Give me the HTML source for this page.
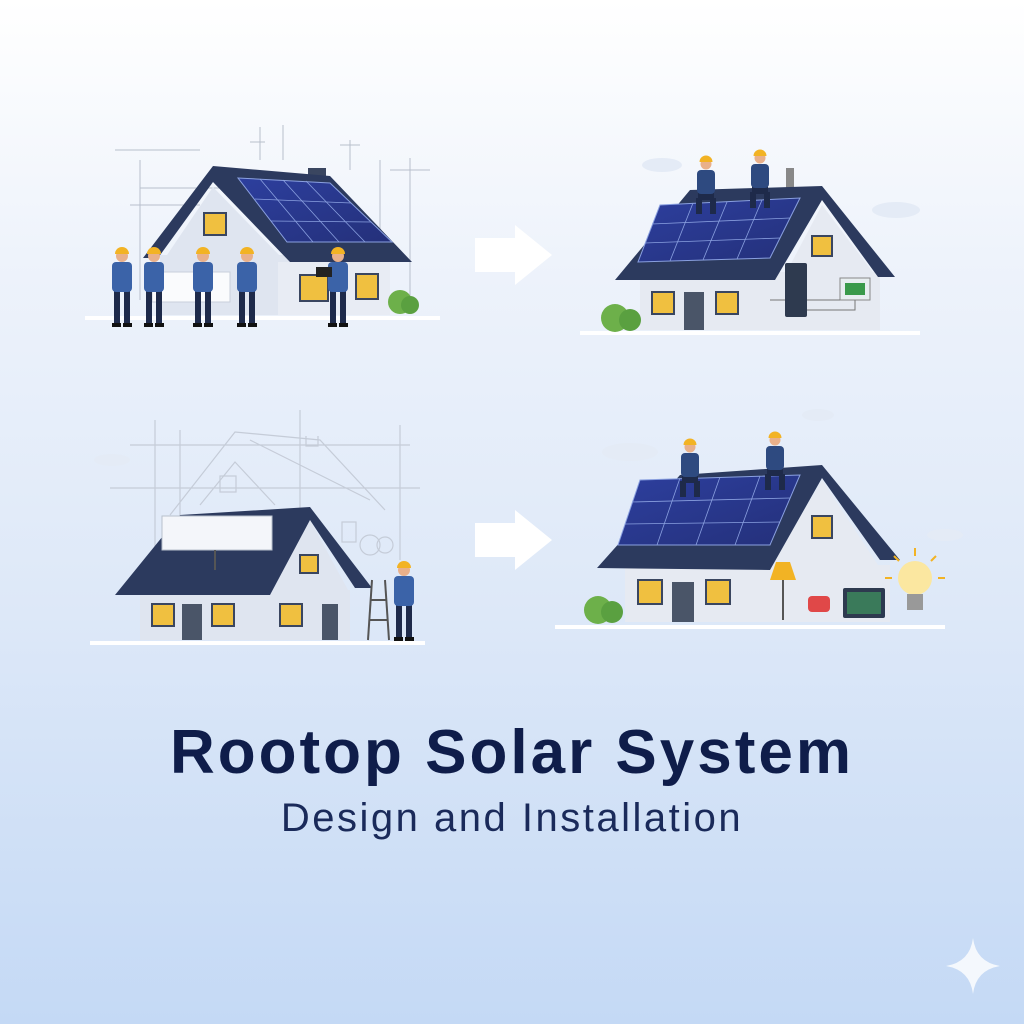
<!DOCTYPE html>
<html><head><meta charset="utf-8"><style>
html,body{margin:0;padding:0}
body{width:1024px;height:1024px;overflow:hidden;background:linear-gradient(180deg,#ffffff 0%,#eef3fb 25%,#dde8f8 60%,#c4d9f5 100%);font-family:"Liberation Sans",sans-serif;position:relative}
svg{position:absolute;left:0;top:0}
.t{position:absolute;left:0;width:1024px;text-align:center;color:#0f1d4a}
</style></head><body>
<svg width="1024" height="1024" viewBox="0 0 1024 1024">
<defs>
<g id="w">
<rect x="-8" y="-36" width="6" height="34" fill="#1e2a4a"/><rect x="2" y="-36" width="6" height="34" fill="#1e2a4a"/>
<rect x="-10" y="-3" width="9" height="4" fill="#111"/><rect x="1" y="-3" width="9" height="4" fill="#111"/>
<rect x="-10" y="-64" width="20" height="30" rx="4" fill="#3b63a8"/>
<circle cx="0" cy="-70" r="6" fill="#e9b08a"/>
<path d="M-7,-72 a7,7 0 0 1 14,0 z" fill="#f2b324"/>
</g>
<g id="k">
<rect x="-8" y="-22" width="16" height="8" fill="#1e2a4a"/><rect x="-10" y="-16" width="6" height="16" fill="#1e2a4a"/><rect x="4" y="-16" width="6" height="16" fill="#1e2a4a"/>
<rect x="-9" y="-44" width="18" height="24" rx="4" fill="#2e4a80"/>
<circle cx="0" cy="-50" r="5.5" fill="#e9b08a"/>
<path d="M-6.5,-52 a6.5,6.5 0 0 1 13,0 z" fill="#f2b324"/>
</g>
<linearGradient id="pv" x1="0" y1="0" x2="1" y2="1"><stop offset="0" stop-color="#2d3f9e"/><stop offset="1" stop-color="#24307a"/></linearGradient>
</defs>
<g fill="#ffffff"><rect x="85" y="316" width="355" height="4"/><rect x="580" y="331" width="340" height="4"/><rect x="90" y="641" width="335" height="4"/><rect x="555" y="625" width="390" height="4"/></g>

<g stroke="#b8bfcc" stroke-width="1" fill="none">
<path d="M115,150H200M140,160V300M140,188H230M130,205H200M260,127V160M250,142H265M283,125V160M350,140V170M340,145H360M380,160V300M410,158V300M390,170H430"/>
</g>
<rect x="160" y="255" width="228" height="60" fill="#dfe5f0"/>
<polygon points="165,258 213,187 282,258" fill="#dfe5f0"/>
<rect x="278" y="262" width="112" height="53" fill="#e8ecf4"/>
<rect x="308" y="168" width="18" height="14" fill="#3a4660"/>
<polygon points="143,258 213,166 330,176 412,262 290,262 213,182 158,258" fill="#2c3a5e"/>
<polygon points="238,178 330,183 392,242 287,242" fill="url(#pv)" stroke="#8aa0e0" stroke-width="1"/>
<g stroke="#8aa0e0" stroke-width="0.8"><line x1="255" y1="199" x2="351" y2="203"/><line x1="271" y1="221" x2="371" y2="222"/><line x1="260" y1="179" x2="313" y2="242"/><line x1="283" y1="180" x2="339" y2="242"/><line x1="306" y1="181" x2="365" y2="242"/></g>
<rect x="204" y="213" width="22" height="22" fill="#f0c040" stroke="#3a4660" stroke-width="2"/>
<rect x="300" y="275" width="28" height="26" fill="#f0c040" stroke="#3a4660" stroke-width="2"/>
<rect x="356" y="274" width="22" height="25" fill="#f0c040" stroke="#3a4660" stroke-width="2"/>
<circle cx="400" cy="302" r="12" fill="#6db04a"/><circle cx="410" cy="305" r="9" fill="#5aa040"/>
<rect x="152" y="272" width="78" height="30" fill="#fafbfd" stroke="#c8cfdb"/>
<use href="#w" x="122" y="326"/><use href="#w" x="154" y="326"/><use href="#w" x="203" y="326"/><use href="#w" x="247" y="326"/><use href="#w" x="338" y="326"/>
<rect x="316" y="267" width="16" height="10" fill="#222"/>

<polygon points="475,238 515,238 515,225 552,255 515,285 515,272 475,272" fill="#fff"/>
<polygon points="475,523 515,523 515,510 552,540 515,570 515,557 475,557" fill="#fff"/>

<g fill="#e4ebf6"><ellipse cx="662" cy="165" rx="20" ry="7"/><ellipse cx="896" cy="210" rx="24" ry="8"/><ellipse cx="112" cy="460" rx="18" ry="6"/><ellipse cx="630" cy="452" rx="28" ry="9"/><ellipse cx="818" cy="415" rx="16" ry="6"/><ellipse cx="945" cy="535" rx="18" ry="6"/></g>

<rect x="640" y="272" width="240" height="58" fill="#e6eaf2"/>
<polygon points="785,275 822,205 875,275" fill="#e6eaf2"/>
<rect x="786" y="168" width="8" height="22" fill="#888"/>
<polygon points="615,280 690,190 822,186 895,277 878,277 822,200 775,280" fill="#2c3a5e"/>
<polygon points="660,205 800,198 770,258 638,262" fill="url(#pv)" stroke="#8aa0e0"/>
<g stroke="#8aa0e0" stroke-width="0.8"><line x1="652" y1="224" x2="790" y2="218"/><line x1="645" y1="243" x2="780" y2="238"/><line x1="693" y1="203" x2="670" y2="261"/><line x1="727" y1="202" x2="703" y2="260"/><line x1="762" y1="200" x2="737" y2="259"/></g>
<rect x="812" y="236" width="20" height="20" fill="#f0c040" stroke="#3a4660" stroke-width="2"/>
<rect x="652" y="292" width="22" height="22" fill="#f0c040" stroke="#3a4660" stroke-width="2"/>
<rect x="684" y="292" width="20" height="38" fill="#4a5568"/>
<rect x="716" y="292" width="22" height="22" fill="#f0c040" stroke="#3a4660" stroke-width="2"/>
<rect x="785" y="263" width="22" height="54" rx="2" fill="#2e3a4f"/>
<rect x="840" y="278" width="30" height="22" fill="#e8eef0" stroke="#888"/><rect x="845" y="283" width="20" height="12" fill="#3a9a4a"/>
<g stroke="#777" fill="none"><path d="M770,300H785M807,300H840M807,310H855V300"/></g>
<circle cx="615" cy="318" r="14" fill="#6db04a"/><circle cx="630" cy="320" r="11" fill="#5aa040"/>
<use href="#k" x="706" y="214"/><use href="#k" x="760" y="208"/>

<g stroke="#c5ccd8" stroke-width="1.2" fill="none">
<path d="M155,420V560M180,430V520M300,410V520M110,488H420M130,445H410M400,425V560M170,515L235,432L320,440L385,510M200,505L235,462L275,505M250,440L370,500M306,436V446H318V436"/>
<rect x="220" y="476" width="16" height="16"/><rect x="342" y="522" width="14" height="20"/>
<circle cx="370" cy="545" r="10"/><circle cx="385" cy="545" r="8"/>
</g>
<rect x="140" y="590" width="210" height="50" fill="#dfe5f0"/>
<polygon points="270,590 310,520 348,590" fill="#dfe5f0"/>
<polygon points="115,595 180,515 310,507 372,588 355,588 310,520 270,595" fill="#2c3a5e"/>
<rect x="162" y="516" width="110" height="34" fill="#f4f6fa" stroke="#b8c0cc"/>
<line x1="215" y1="550" x2="215" y2="570" stroke="#555" stroke-width="2"/>
<rect x="300" y="555" width="18" height="18" fill="#f0c040" stroke="#3a4660" stroke-width="2"/>
<rect x="152" y="604" width="22" height="22" fill="#f0c040" stroke="#3a4660" stroke-width="2"/>
<rect x="182" y="604" width="20" height="36" fill="#4a5568"/>
<rect x="212" y="604" width="22" height="22" fill="#f0c040" stroke="#3a4660" stroke-width="2"/>
<rect x="280" y="604" width="22" height="22" fill="#f0c040" stroke="#3a4660" stroke-width="2"/>
<rect x="322" y="604" width="16" height="36" fill="#4a5568"/>
<g stroke="#555" stroke-width="2"><line x1="372" y1="580" x2="368" y2="640"/><line x1="385" y1="580" x2="389" y2="640"/><line x1="370" y1="600" x2="387" y2="600"/><line x1="369" y1="620" x2="388" y2="620"/></g>
<use href="#w" x="404" y="640"/>

<rect x="625" y="565" width="265" height="57" fill="#e6eaf2"/>
<polygon points="770,568 822,480 880,568" fill="#e6eaf2"/>
<polygon points="597,568 680,475 822,465 900,560 880,560 822,478 770,570" fill="#2c3a5e"/>
<polygon points="640,480 800,475 770,545 618,545" fill="url(#pv)" stroke="#8aa0e0"/>
<g stroke="#8aa0e0" stroke-width="0.8"><line x1="632" y1="502" x2="790" y2="498"/><line x1="625" y1="524" x2="780" y2="522"/><line x1="680" y1="478" x2="657" y2="545"/><line x1="720" y1="477" x2="696" y2="545"/><line x1="760" y1="476" x2="735" y2="545"/></g>
<rect x="812" y="516" width="20" height="22" fill="#f0c040" stroke="#3a4660" stroke-width="2"/>
<rect x="638" y="580" width="24" height="24" fill="#f0c040" stroke="#3a4660" stroke-width="2"/>
<rect x="672" y="582" width="22" height="40" fill="#4a5568"/>
<rect x="706" y="580" width="24" height="24" fill="#f0c040" stroke="#3a4660" stroke-width="2"/>
<polygon points="776,562 790,562 796,580 770,580" fill="#f2b324"/><rect x="782" y="580" width="2" height="40" fill="#555"/>
<rect x="808" y="596" width="22" height="16" rx="4" fill="#e04848"/>
<rect x="843" y="588" width="42" height="30" rx="2" fill="#2e3a4f"/><rect x="847" y="592" width="34" height="22" fill="#3a7a5a"/>
<circle cx="915" cy="578" r="17" fill="#fbe7a0"/><rect x="907" y="594" width="16" height="16" fill="#999"/>
<g stroke="#f2b324" stroke-width="2"><line x1="915" y1="548" x2="915" y2="556"/><line x1="885" y1="578" x2="892" y2="578"/><line x1="938" y1="578" x2="945" y2="578"/><line x1="894" y1="556" x2="899" y2="561"/><line x1="936" y1="556" x2="931" y2="561"/></g>
<circle cx="598" cy="610" r="14" fill="#6db04a"/><circle cx="612" cy="612" r="11" fill="#5aa040"/>
<use href="#k" x="690" y="497"/><use href="#k" x="775" y="490"/>

<path d="M973,938 Q976,962 1000,966 Q976,970 973,994 Q970,970 946,966 Q970,962 973,938Z" fill="#f4f8fd"/>
</svg>
<div class="t" style="top:717px;font-size:62px;font-weight:bold;letter-spacing:3px">Rootop Solar System</div>
<div class="t" style="top:796px;font-size:40px;color:#1a2a5a;letter-spacing:2.5px">Design and Installation</div>
</body></html>
